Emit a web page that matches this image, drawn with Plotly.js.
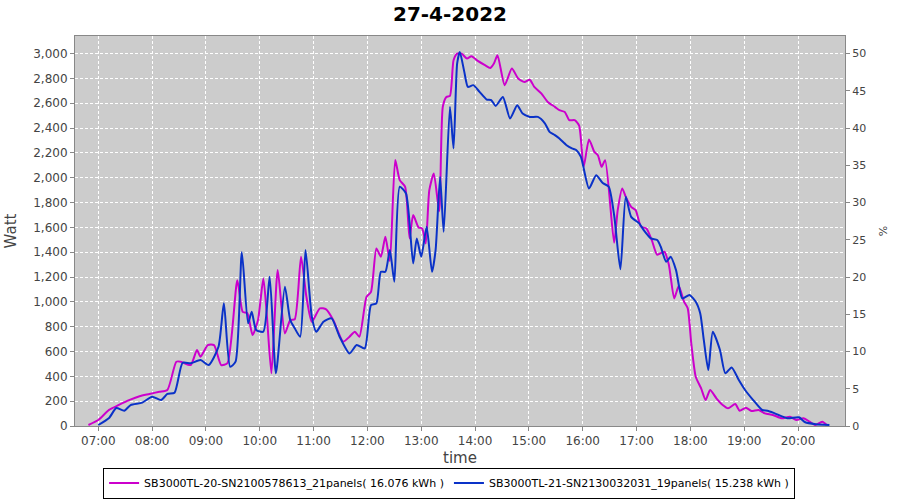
<!DOCTYPE html>
<html>
<head>
<meta charset="utf-8">
<script src="https://cdn.plot.ly/plotly-3.0.1.min.js"></script>
<style>html,body{margin:0;padding:0;background:#fff;}#chart{width:900px;height:500px;}</style>
</head>
<body>
<div id="chart"></div>
<script>
const DAY = "2022-04-27 ";
const nameA = "SB3000TL-20-SN2100578613_21panels( 16.076 kWh )";
const nameB = "SB3000TL-21-SN2130032031_19panels( 15.238 kWh )";

const timesA = ["06:49","07:00","07:12","07:23","07:35","07:46","07:57","08:08","08:17","08:27","08:32","08:43","08:50","08:54","09:02","09:09","09:17","09:24","09:35","09:41","09:46","09:52","09:58","10:04","10:08","10:13","10:20","10:28","10:34","10:39","10:46","10:52","10:58","11:07","11:14","11:22","11:33","11:40","11:46","11:51","11:59","12:04","12:10","12:15","12:20","12:25","12:31","12:36","12:42","12:47","12:51","12:57","13:01","13:05","13:09","13:14","13:20","13:24","13:28","13:32","13:36","13:40","13:45","13:51","13:56","14:03","14:11","14:17","14:21","14:25","14:33","14:41","14:48","14:55","15:01","15:06","15:14","15:21","15:29","15:34","15:40","15:45","15:51","15:56","16:01","16:07","16:13","16:17","16:21","16:25","16:35","16:39","16:44","16:48","16:54","16:59","17:05","17:11","17:17","17:23","17:31","17:36","17:42","17:47","17:53","17:57","18:01","18:06","18:12","18:17","18:22","18:29","18:36","18:42","18:50","18:55","19:02","19:08","19:16","19:23","19:32","19:42","19:51","19:58","20:06","20:13","20:19","20:27","20:32"];
const wattA = [8,48,130,170,210,240,258,276,290,518,518,491,612,558,652,652,491,507,1175,920,910,733,853,1189,880,424,1256,746,853,860,1363,1041,840,948,940,853,679,719,760,719,1040,1081,1430,1364,1524,1330,2142,1981,1927,1511,1699,1600,1592,1471,1900,2035,1730,2571,2651,2660,2947,3000,3000,2960,2979,2941,2907,2885,2920,2987,2746,2880,2800,2772,2790,2732,2678,2611,2571,2544,2530,2464,2464,2420,2088,2308,2208,2180,2088,2142,1476,1739,1914,1846,1766,1739,1605,1592,1498,1380,1404,1300,1028,1127,1001,950,666,397,303,209,290,223,169,142,177,123,147,121,129,102,89,62,75,48,62,35,8,35,8];

const timesB = ["07:00","07:12","07:20","07:29","07:36","07:49","08:00","08:10","08:17","08:25","08:34","08:43","08:54","09:03","09:14","09:20","09:27","09:33","09:40","09:47","09:51","09:56","10:04","10:11","10:18","10:28","10:34","10:39","10:45","10:51","10:58","11:03","11:11","11:20","11:29","11:40","11:48","11:57","12:04","12:10","12:15","12:20","12:25","12:30","12:36","12:43","12:51","12:55","13:00","13:06","13:12","13:16","13:21","13:25","13:32","13:36","13:40","13:43","13:48","13:52","13:58","14:05","14:13","14:18","14:23","14:31","14:39","14:47","14:53","15:01","15:10","15:18","15:23","15:29","15:34","15:42","15:48","15:53","15:58","16:07","16:15","16:22","16:29","16:35","16:42","16:48","16:54","17:03","17:08","17:16","17:23","17:27","17:33","17:38","17:44","17:51","17:59","18:06","18:11","18:15","18:20","18:25","18:33","18:39","18:46","18:54","19:01","19:10","19:20","19:26","19:34","19:48","20:01","20:08","20:20","20:35"];
const wattB = [8,64,145,123,169,188,236,209,258,268,510,505,531,491,638,988,477,518,1400,827,920,773,760,1202,424,1122,853,787,719,1417,880,760,840,867,719,585,652,625,974,988,1242,1242,1417,1162,1927,1873,1310,1511,1363,1605,1242,1417,2007,1564,2571,2236,2920,3014,2853,2732,2746,2692,2630,2625,2579,2651,2477,2584,2517,2490,2490,2437,2370,2343,2316,2262,2236,2222,2168,1914,2021,1959,1927,1700,1262,1846,1685,1632,1578,1511,1498,1444,1323,1363,1256,1028,1055,1001,907,692,451,759,612,424,472,370,290,209,129,123,102,62,70,30,15,8];

const titleText = "27-4-2022";
const xTitle = "time";
const yTitle = "Watt";
const y2Title = "%";

const fontFam = "DejaVu Sans, Verdana, sans-serif";

const traces = [
  {x: timesA.map(t => DAY + t), y: wattA, name: nameA, type: "scatter", mode: "lines",
   line: {color: "#cc00cc", width: 2, shape: "spline", smoothing: 0.6}},
  {x: timesB.map(t => DAY + t), y: wattB, name: nameB, type: "scatter", mode: "lines",
   line: {color: "#0a32c8", width: 2, shape: "spline", smoothing: 0.6}},
  {x: [], y: [], yaxis: "y2", type: "scatter", mode: "lines", showlegend: false, hoverinfo: "skip"}
];

const layout = {
  width: 900, height: 500,
  margin: {l: 75, r: 55, t: 36, b: 74},
  paper_bgcolor: "#ffffff",
  plot_bgcolor: "#cccccc",
  title: {text: "<b>" + titleText + "</b>", x: 0.5, xanchor: "center", y: 0.972, yanchor: "middle",
          font: {family: fontFam, size: 20, color: "#000"}},
  showlegend: true,
  legend: {orientation: "h", xref: "container", yref: "container",
           x: 0.499, xanchor: "center", y: 0.034, yanchor: "middle",
           bordercolor: "#000", borderwidth: 1, bgcolor: "#fff",
           font: {family: fontFam, size: 11, color: "#000"},
           itemwidth: 30, tracegroupgap: 0},
  xaxis: {
    type: "date",
    range: [DAY + "06:34:02", DAY + "20:52:22"],
    tickformat: "%H:%M", dtick: 3600000, tick0: DAY + "07:00",
    showgrid: true, gridcolor: "#ffffff", griddash: "3px,2px", gridwidth: 1,
    ticks: "outside", ticklen: 4, tickcolor: "#888",
    showline: true, linecolor: "#888", linewidth: 1, mirror: true,
    zeroline: false,
    tickfont: {family: fontFam, size: 12, color: "#444"},
    title: {text: xTitle, font: {family: fontFam, size: 15, color: "#444"}, standoff: 8}
  },
  yaxis: {
    range: [0, 3142], dtick: 200, tickformat: ",d",
    showgrid: true, gridcolor: "#ffffff", griddash: "3px,2px", gridwidth: 1,
    ticks: "outside", ticklen: 4, tickcolor: "#888",
    showline: true, linecolor: "#888", linewidth: 1, mirror: true,
    zeroline: false,
    tickfont: {family: fontFam, size: 12, color: "#444"},
    title: {text: yTitle, font: {family: fontFam, size: 15, color: "#444"}, standoff: 12}
  },
  yaxis2: {
    overlaying: "y", side: "right", anchor: "x",
    range: [0, 3142/60], dtick: 5,
    showgrid: false, zeroline: false,
    ticks: "outside", ticklen: 4, tickcolor: "#888",
    showline: false,
    tickfont: {family: fontFam, size: 11, color: "#444"},
    title: {text: y2Title, font: {family: fontFam, size: 11, color: "#444"}, standoff: 14}
  }
};

Plotly.newPlot("chart", traces, layout, {staticPlot: true, displayModeBar: false});
</script>
</body>
</html>
